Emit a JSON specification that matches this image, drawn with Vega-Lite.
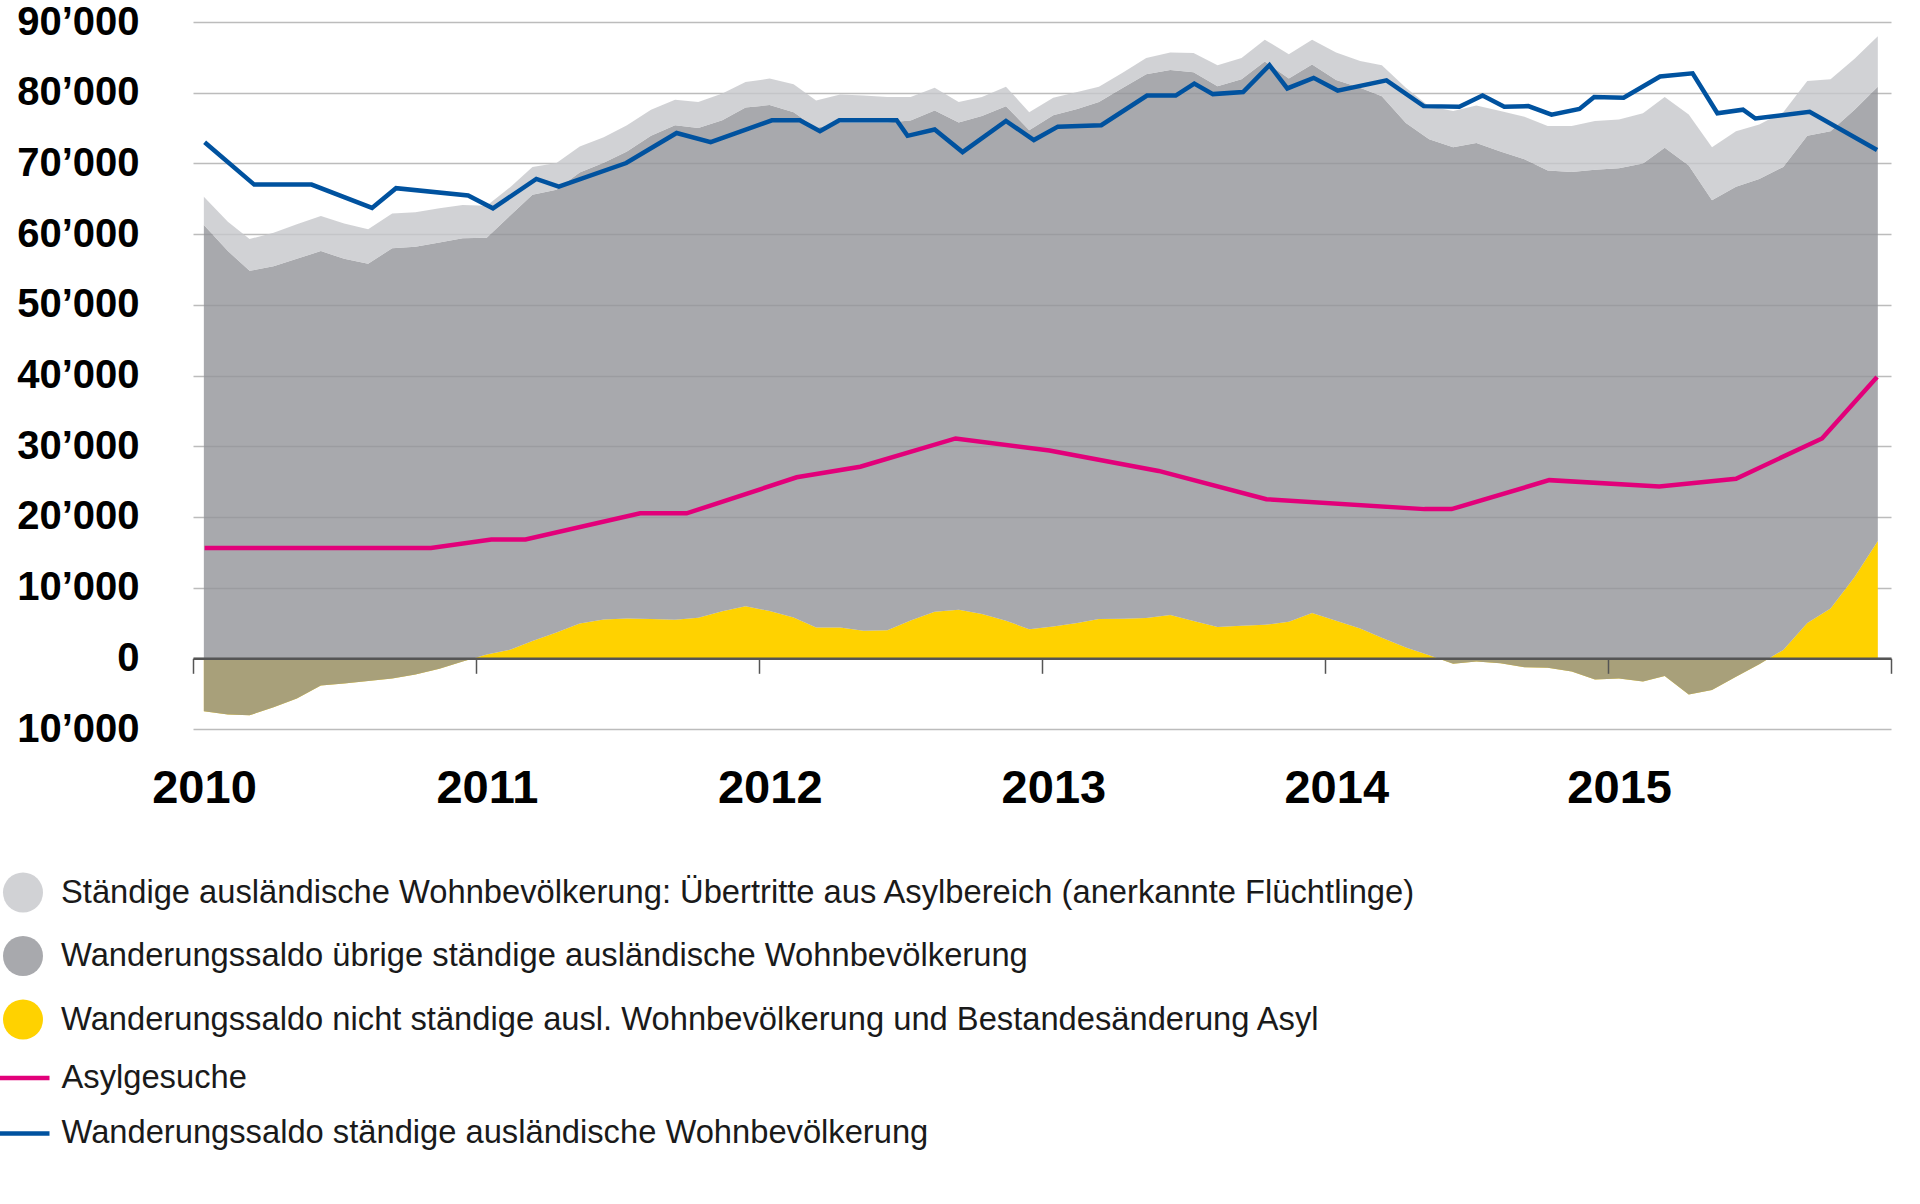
{
  "$schema": "https://vega.github.io/schema/vega-lite/v6.json",
  "width": 1698,
  "height": 707,
  "autosize": {"type": "none"},
  "padding": {"left": 193, "top": 22, "right": 29, "bottom": 475},
  "background": "white",
  "config": {"view": {"stroke": null}, "font": "Liberation Sans"},
  "datasets": {
    "flaechen": [
      {"monat": "2010-01-15", "nichtstaendig": -7490, "staendigUebrige": 68790, "uebertritte": 4000},
      {"monat": "2010-02-15", "nichtstaendig": -7960, "staendigUebrige": 65560, "uebertritte": 4150},
      {"monat": "2010-03-15", "nichtstaendig": -8060, "staendigUebrige": 62860, "uebertritte": 4500},
      {"monat": "2010-04-15", "nichtstaendig": -6920, "staendigUebrige": 62370, "uebertritte": 4750},
      {"monat": "2010-05-15", "nichtstaendig": -5690, "staendigUebrige": 62190, "uebertritte": 4900},
      {"monat": "2010-06-15", "nichtstaendig": -3840, "staendigUebrige": 61440, "uebertritte": 4960},
      {"monat": "2010-07-15", "nichtstaendig": -3560, "staendigUebrige": 60060, "uebertritte": 5000},
      {"monat": "2010-08-15", "nichtstaendig": -3220, "staendigUebrige": 59020, "uebertritte": 4900},
      {"monat": "2010-09-15", "nichtstaendig": -2840, "staendigUebrige": 60840, "uebertritte": 4900},
      {"monat": "2010-10-15", "nichtstaendig": -2280, "staendigUebrige": 60480, "uebertritte": 4900},
      {"monat": "2010-11-15", "nichtstaendig": -1470, "staendigUebrige": 60270, "uebertritte": 4850},
      {"monat": "2010-12-15", "nichtstaendig": -450, "staendigUebrige": 59850, "uebertritte": 4700},
      {"monat": "2011-01-15", "nichtstaendig": 550, "staendigUebrige": 58950, "uebertritte": 4500},
      {"monat": "2011-02-15", "nichtstaendig": 1230, "staendigUebrige": 61470, "uebertritte": 4000},
      {"monat": "2011-03-15", "nichtstaendig": 2460, "staendigUebrige": 63090, "uebertritte": 3950},
      {"monat": "2011-04-15", "nichtstaendig": 3650, "staendigUebrige": 62610, "uebertritte": 3790},
      {"monat": "2011-05-15", "nichtstaendig": 4930, "staendigUebrige": 63770, "uebertritte": 3700},
      {"monat": "2011-06-15", "nichtstaendig": 5500, "staendigUebrige": 64600, "uebertritte": 3600},
      {"monat": "2011-07-15", "nichtstaendig": 5640, "staendigUebrige": 66060, "uebertritte": 3700},
      {"monat": "2011-08-15", "nichtstaendig": 5550, "staendigUebrige": 68350, "uebertritte": 3700},
      {"monat": "2011-09-15", "nichtstaendig": 5450, "staendigUebrige": 69950, "uebertritte": 3600},
      {"monat": "2011-10-15", "nichtstaendig": 5740, "staendigUebrige": 69260, "uebertritte": 3700},
      {"monat": "2011-11-15", "nichtstaendig": 6640, "staendigUebrige": 69460, "uebertritte": 3800},
      {"monat": "2011-12-15", "nichtstaendig": 7350, "staendigUebrige": 70550, "uebertritte": 3600},
      {"monat": "2012-01-15", "nichtstaendig": 6680, "staendigUebrige": 71570, "uebertritte": 3750},
      {"monat": "2012-02-15", "nichtstaendig": 5780, "staendigUebrige": 71470, "uebertritte": 3950},
      {"monat": "2012-03-15", "nichtstaendig": 4360, "staendigUebrige": 70640, "uebertritte": 3900},
      {"monat": "2012-04-15", "nichtstaendig": 4360, "staendigUebrige": 71440, "uebertritte": 3960},
      {"monat": "2012-05-15", "nichtstaendig": 3890, "staendigUebrige": 71910, "uebertritte": 3800},
      {"monat": "2012-06-15", "nichtstaendig": 3980, "staendigUebrige": 71820, "uebertritte": 3600},
      {"monat": "2012-07-15", "nichtstaendig": 5360, "staendigUebrige": 70710, "uebertritte": 3330},
      {"monat": "2012-08-15", "nichtstaendig": 6590, "staendigUebrige": 70910, "uebertritte": 3200},
      {"monat": "2012-09-15", "nichtstaendig": 6870, "staendigUebrige": 68930, "uebertritte": 2870},
      {"monat": "2012-10-15", "nichtstaendig": 6260, "staendigUebrige": 70440, "uebertritte": 2700},
      {"monat": "2012-11-15", "nichtstaendig": 5310, "staendigUebrige": 72790, "uebertritte": 2750},
      {"monat": "2012-12-15", "nichtstaendig": 4120, "staendigUebrige": 70580, "uebertritte": 2550},
      {"monat": "2013-01-15", "nichtstaendig": 4500, "staendigUebrige": 72300, "uebertritte": 2500},
      {"monat": "2013-02-15", "nichtstaendig": 4980, "staendigUebrige": 72720, "uebertritte": 2400},
      {"monat": "2013-03-15", "nichtstaendig": 5550, "staendigUebrige": 73150, "uebertritte": 2150},
      {"monat": "2013-04-15", "nichtstaendig": 5600, "staendigUebrige": 75100, "uebertritte": 2140},
      {"monat": "2013-05-15", "nichtstaendig": 5690, "staendigUebrige": 76910, "uebertritte": 2300},
      {"monat": "2013-06-15", "nichtstaendig": 6110, "staendigUebrige": 77090, "uebertritte": 2500},
      {"monat": "2013-07-15", "nichtstaendig": 5260, "staendigUebrige": 77640, "uebertritte": 2700},
      {"monat": "2013-08-15", "nichtstaendig": 4410, "staendigUebrige": 76490, "uebertritte": 3000},
      {"monat": "2013-09-15", "nichtstaendig": 4600, "staendigUebrige": 77300, "uebertritte": 3000},
      {"monat": "2013-10-15", "nichtstaendig": 4740, "staendigUebrige": 79660, "uebertritte": 3100},
      {"monat": "2013-11-15", "nichtstaendig": 5170, "staendigUebrige": 76830, "uebertritte": 3450},
      {"monat": "2013-12-15", "nichtstaendig": 6400, "staendigUebrige": 77600, "uebertritte": 3500},
      {"monat": "2014-01-15", "nichtstaendig": 5310, "staendigUebrige": 76490, "uebertritte": 3900},
      {"monat": "2014-02-15", "nichtstaendig": 4220, "staendigUebrige": 76480, "uebertritte": 3800},
      {"monat": "2014-03-15", "nichtstaendig": 2890, "staendigUebrige": 76610, "uebertritte": 4400},
      {"monat": "2014-04-15", "nichtstaendig": 1520, "staendigUebrige": 74180, "uebertritte": 5000},
      {"monat": "2014-05-15", "nichtstaendig": 430, "staendigUebrige": 72970, "uebertritte": 4700},
      {"monat": "2014-06-15", "nichtstaendig": -760, "staendigUebrige": 73060, "uebertritte": 5100},
      {"monat": "2014-07-15", "nichtstaendig": -470, "staendigUebrige": 73370, "uebertritte": 5300},
      {"monat": "2014-08-15", "nichtstaendig": -710, "staendigUebrige": 72410, "uebertritte": 5700},
      {"monat": "2014-09-15", "nichtstaendig": -1280, "staendigUebrige": 71880, "uebertritte": 6000},
      {"monat": "2014-10-15", "nichtstaendig": -1330, "staendigUebrige": 70330, "uebertritte": 6300},
      {"monat": "2014-11-15", "nichtstaendig": -1850, "staendigUebrige": 70650, "uebertritte": 6500},
      {"monat": "2014-12-15", "nichtstaendig": -2990, "staendigUebrige": 72090, "uebertritte": 6900},
      {"monat": "2015-01-15", "nichtstaendig": -2840, "staendigUebrige": 72140, "uebertritte": 6900},
      {"monat": "2015-02-15", "nichtstaendig": -3270, "staendigUebrige": 73270, "uebertritte": 7100},
      {"monat": "2015-03-15", "nichtstaendig": -2510, "staendigUebrige": 74710, "uebertritte": 7200},
      {"monat": "2015-04-15", "nichtstaendig": -5120, "staendigUebrige": 74820, "uebertritte": 7200},
      {"monat": "2015-05-15", "nichtstaendig": -4500, "staendigUebrige": 69300, "uebertritte": 7500},
      {"monat": "2015-06-15", "nichtstaendig": -2600, "staendigUebrige": 69300, "uebertritte": 7850},
      {"monat": "2015-07-15", "nichtstaendig": -850, "staendigUebrige": 68650, "uebertritte": 7700},
      {"monat": "2015-08-15", "nichtstaendig": 1190, "staendigUebrige": 68310, "uebertritte": 7750},
      {"monat": "2015-09-15", "nichtstaendig": 4980, "staendigUebrige": 68920, "uebertritte": 7760},
      {"monat": "2015-10-15", "nichtstaendig": 7060, "staendigUebrige": 67490, "uebertritte": 7350},
      {"monat": "2015-11-15", "nichtstaendig": 11500, "staendigUebrige": 66100, "uebertritte": 7200},
      {"monat": "2015-12-15", "nichtstaendig": 16600, "staendigUebrige": 64250, "uebertritte": 7150}
    ],
    "linien": [
      {"monat": "2010-01-16", "serie": "asylgesuche", "wert": 15600},
      {"monat": "2010-11-04", "serie": "asylgesuche", "wert": 15600},
      {"monat": "2011-01-21", "serie": "asylgesuche", "wert": 16800},
      {"monat": "2011-03-06", "serie": "asylgesuche", "wert": 16800},
      {"monat": "2011-08-01", "serie": "asylgesuche", "wert": 20500},
      {"monat": "2011-09-30", "serie": "asylgesuche", "wert": 20500},
      {"monat": "2012-02-19", "serie": "asylgesuche", "wert": 25600},
      {"monat": "2012-05-11", "serie": "asylgesuche", "wert": 27100},
      {"monat": "2012-09-11", "serie": "asylgesuche", "wert": 31100},
      {"monat": "2013-01-10", "serie": "asylgesuche", "wert": 29400},
      {"monat": "2013-05-31", "serie": "asylgesuche", "wert": 26500},
      {"monat": "2013-10-17", "serie": "asylgesuche", "wert": 22500},
      {"monat": "2014-05-09", "serie": "asylgesuche", "wert": 21100},
      {"monat": "2014-06-13", "serie": "asylgesuche", "wert": 21100},
      {"monat": "2014-10-17", "serie": "asylgesuche", "wert": 25200},
      {"monat": "2015-03-08", "serie": "asylgesuche", "wert": 24300},
      {"monat": "2015-06-15", "serie": "asylgesuche", "wert": 25400},
      {"monat": "2015-10-04", "serie": "asylgesuche", "wert": 31100},
      {"monat": "2015-12-14", "serie": "asylgesuche", "wert": 39800},
      {"monat": "2010-01-16", "serie": "staendig", "wert": 73000},
      {"monat": "2010-03-21", "serie": "staendig", "wert": 67000},
      {"monat": "2010-06-03", "serie": "staendig", "wert": 67000},
      {"monat": "2010-08-20", "serie": "staendig", "wert": 63700},
      {"monat": "2010-09-20", "serie": "staendig", "wert": 66500},
      {"monat": "2010-12-22", "serie": "staendig", "wert": 65450},
      {"monat": "2011-01-23", "serie": "staendig", "wert": 63650},
      {"monat": "2011-03-20", "serie": "staendig", "wert": 67800},
      {"monat": "2011-04-18", "serie": "staendig", "wert": 66700},
      {"monat": "2011-07-14", "serie": "staendig", "wert": 70050},
      {"monat": "2011-09-17", "serie": "staendig", "wert": 74300},
      {"monat": "2011-10-31", "serie": "staendig", "wert": 73000},
      {"monat": "2012-01-18", "serie": "staendig", "wert": 76100},
      {"monat": "2012-02-23", "serie": "staendig", "wert": 76100},
      {"monat": "2012-03-20", "serie": "staendig", "wert": 74550},
      {"monat": "2012-04-14", "serie": "staendig", "wert": 76100},
      {"monat": "2012-06-27", "serie": "staendig", "wert": 76100},
      {"monat": "2012-07-11", "serie": "staendig", "wert": 73900},
      {"monat": "2012-08-15", "serie": "staendig", "wert": 74800},
      {"monat": "2012-09-20", "serie": "staendig", "wert": 71600},
      {"monat": "2012-11-15", "serie": "staendig", "wert": 76000},
      {"monat": "2012-12-21", "serie": "staendig", "wert": 73300},
      {"monat": "2013-01-21", "serie": "staendig", "wert": 75200},
      {"monat": "2013-03-18", "serie": "staendig", "wert": 75400},
      {"monat": "2013-05-16", "serie": "staendig", "wert": 79600},
      {"monat": "2013-06-22", "serie": "staendig", "wert": 79600},
      {"monat": "2013-07-16", "serie": "staendig", "wert": 81300},
      {"monat": "2013-08-09", "serie": "staendig", "wert": 79800},
      {"monat": "2013-09-17", "serie": "staendig", "wert": 80100},
      {"monat": "2013-10-21", "serie": "staendig", "wert": 83900},
      {"monat": "2013-11-13", "serie": "staendig", "wert": 80600},
      {"monat": "2013-12-17", "serie": "staendig", "wert": 82100},
      {"monat": "2014-01-17", "serie": "staendig", "wert": 80300},
      {"monat": "2014-03-21", "serie": "staendig", "wert": 81750},
      {"monat": "2014-05-08", "serie": "staendig", "wert": 78100},
      {"monat": "2014-06-23", "serie": "staendig", "wert": 78000},
      {"monat": "2014-07-23", "serie": "staendig", "wert": 79600},
      {"monat": "2014-08-20", "serie": "staendig", "wert": 78000},
      {"monat": "2014-09-20", "serie": "staendig", "wert": 78100},
      {"monat": "2014-10-20", "serie": "staendig", "wert": 76900},
      {"monat": "2014-11-25", "serie": "staendig", "wert": 77700},
      {"monat": "2014-12-14", "serie": "staendig", "wert": 79400},
      {"monat": "2015-01-21", "serie": "staendig", "wert": 79300},
      {"monat": "2015-03-09", "serie": "staendig", "wert": 82300},
      {"monat": "2015-04-20", "serie": "staendig", "wert": 82750},
      {"monat": "2015-05-22", "serie": "staendig", "wert": 77100},
      {"monat": "2015-06-24", "serie": "staendig", "wert": 77600},
      {"monat": "2015-07-10", "serie": "staendig", "wert": 76350},
      {"monat": "2015-09-18", "serie": "staendig", "wert": 77300},
      {"monat": "2015-12-14", "serie": "staendig", "wert": 71900}
    ]
  },
  "layer": [
    {
      "data": {"name": "flaechen"},
      "transform": [
        {"fold": ["nichtstaendig", "staendigUebrige", "uebertritte"], "as": ["serie", "wert"]},
        {"filter": {"field": "serie", "equal": "nichtstaendig"}}
      ],
      "mark": {"type": "area", "interpolate": "linear"},
      "encoding": {
        "x": {
          "field": "monat",
          "type": "temporal",
          "scale": {"domain": ["2010-01-01", "2016-01-01"]},
          "axis": {
            "title": null,
            "tickCount": {"interval": "year", "step": 1},
            "format": "%Y",
            "labelExpr": "year(datum.value) >= 2016 ? '' : datum.label",
            "labelFont": "Liberation Sans",
            "labelFontSize": 47,
            "labelFontWeight": "bold",
            "labelColor": "#000000",
            "labelFlush": false,
            "labelOverlap": false,
            "labelOffset": 11,
            "labelPadding": 92.5,
            "tickSize": 15,
            "tickColor": "#555555",
            "tickWidth": 1.5,
            "domainColor": "#555555",
            "domainWidth": 2.5,
            "grid": false,
            "offset": -70.7,
            "zindex": 1
          }
        },
        "y": {
          "field": "wert", "type": "quantitative", "stack": null,
          "scale": {"domain": [-10000, 90000], "nice": false, "zero": false},
          "axis": {
            "title": null,
            "values": [-10000, 0, 10000, 20000, 30000, 40000, 50000, 60000, 70000, 80000, 90000],
            "labelExpr": "datum.value == 0 ? '0' : replace(format(abs(datum.value), ','), ',', '’')",
            "labelFont": "Liberation Sans",
            "labelFontSize": 40,
            "labelFontWeight": "bold",
            "labelColor": "#000000",
            "labelPadding": 54,
            "ticks": false,
            "domain": false,
            "grid": true,
            "gridColor": "#bcbcbc",
            "gridWidth": 1.5
          }
        },
        "fill": {
          "field": "serie", "type": "nominal",
          "scale": {
            "domain": ["uebertritte", "staendigUebrige", "nichtstaendig"],
            "range": ["rgba(198,199,202,0.8)", "rgba(146,147,152,0.8)", "#ffd200"]
          },
          "legend": {
            "orient": "none",
            "legendX": -190,
            "legendY": 850.5,
            "direction": "vertical",
            "title": null,
            "padding": 0,
            "rowPadding": 23.5,
            "symbolType": "circle",
            "symbolSize": 1600,
            "symbolStrokeWidth": 0,
            "labelFont": "Liberation Sans",
            "labelFontSize": 32.7,
            "labelColor": "#1a1a1a",
            "labelLimit": 2000,
            "labelOffset": 18,
            "labelExpr": "datum.label == 'uebertritte' ? 'Ständige ausländische Wohnbevölkerung: Übertritte aus Asylbereich (anerkannte Flüchtlinge)' : datum.label == 'staendigUebrige' ? 'Wanderungssaldo übrige ständige ausländische Wohnbevölkerung' : 'Wanderungssaldo nicht ständige ausl. Wohnbevölkerung und Bestandesänderung Asyl'"
          }
        }
      }
    },
    {
      "data": {"name": "flaechen"},
      "transform": [
        {"fold": ["nichtstaendig", "staendigUebrige", "uebertritte"], "as": ["serie", "wert"]},
        {"window": [{"op": "sum", "field": "wert", "as": "oben"}], "groupby": ["monat"], "sort": [{"field": "serie", "order": "ascending"}], "frame": [null, 0]},
        {"window": [{"op": "lag", "field": "oben", "as": "unten"}], "groupby": ["monat"], "sort": [{"field": "serie", "order": "ascending"}]},
        {"filter": {"field": "serie", "equal": "staendigUebrige"}}
      ],
      "mark": {"type": "area", "interpolate": "linear"},
      "encoding": {
        "x": {"field": "monat", "type": "temporal"},
        "y": {"field": "oben", "type": "quantitative", "stack": null},
        "y2": {"field": "unten"},
        "fill": {"field": "serie", "type": "nominal"}
      }
    },
    {
      "data": {"name": "flaechen"},
      "transform": [
        {"fold": ["nichtstaendig", "staendigUebrige", "uebertritte"], "as": ["serie", "wert"]},
        {"window": [{"op": "sum", "field": "wert", "as": "oben"}], "groupby": ["monat"], "sort": [{"field": "serie", "order": "ascending"}], "frame": [null, 0]},
        {"window": [{"op": "lag", "field": "oben", "as": "unten"}], "groupby": ["monat"], "sort": [{"field": "serie", "order": "ascending"}]},
        {"filter": {"field": "serie", "equal": "uebertritte"}}
      ],
      "mark": {"type": "area", "interpolate": "linear"},
      "encoding": {
        "x": {"field": "monat", "type": "temporal"},
        "y": {"field": "oben", "type": "quantitative", "stack": null},
        "y2": {"field": "unten"},
        "fill": {"field": "serie", "type": "nominal"}
      }
    },
    {
      "data": {"name": "linien"},
      "mark": {"type": "line", "strokeWidth": 4.5, "interpolate": "linear"},
      "encoding": {
        "x": {"field": "monat", "type": "temporal"},
        "y": {"field": "wert", "type": "quantitative"},
        "stroke": {
          "field": "serie", "type": "nominal",
          "scale": {"domain": ["asylgesuche", "staendig"], "range": ["#e2007a", "#00529f"]},
          "legend": {
            "orient": "none",
            "legendX": -196,
            "legendY": 1028.6,
            "direction": "vertical",
            "title": null,
            "padding": 0,
            "rowPadding": 10.3,
            "symbolType": "stroke",
            "symbolSize": 2500,
            "symbolStrokeWidth": 4.5,
            "labelFont": "Liberation Sans",
            "labelFontSize": 32.7,
            "labelColor": "#1a1a1a",
            "labelLimit": 2000,
            "labelOffset": 9.5,
            "labelExpr": "datum.label == 'asylgesuche' ? 'Asylgesuche' : 'Wanderungssaldo ständige ausländische Wohnbevölkerung'"
          }
        }
      }
    }
  ]
}
